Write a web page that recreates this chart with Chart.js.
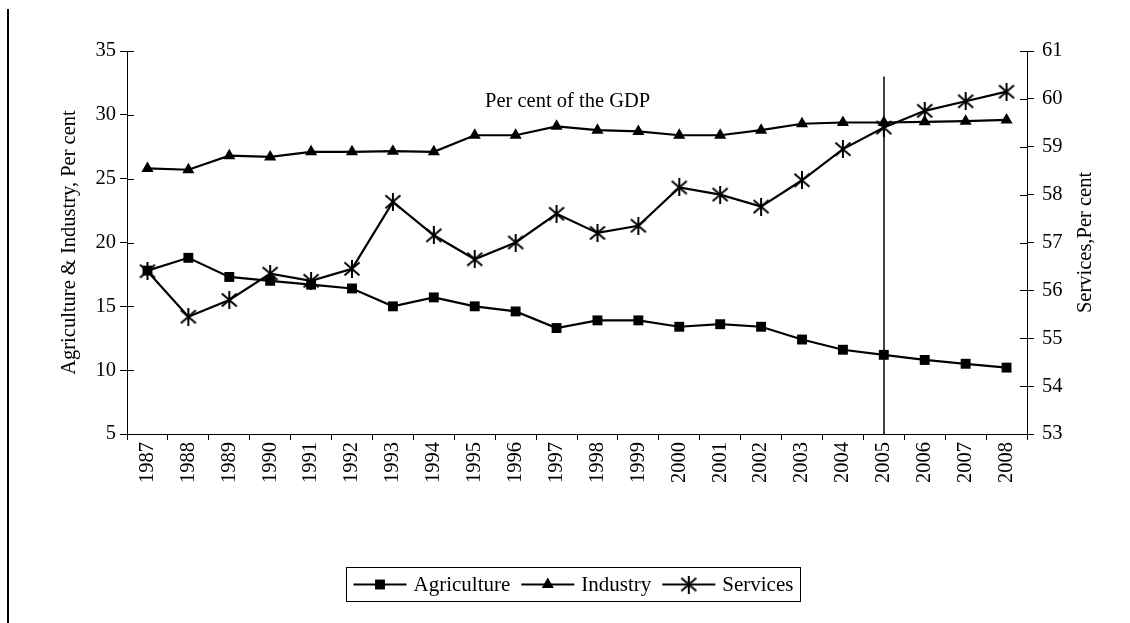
<!DOCTYPE html>
<html>
<head>
<meta charset="utf-8">
<script src="https://cdn.jsdelivr.net/npm/chart.js@4.4.1/dist/chart.umd.min.js"></script>
<style>
  body { margin: 0; background: #fff; }
  #wrap { position: relative; width: 1130px; height: 623px; }
  #frame { position: absolute; left: 7px; top: 9px; width: 2px; height: 614px; background: #000; }
  canvas { position: absolute; left: 0; top: 0; }
</style>
</head>
<body>
<div id="wrap">
  <div id="frame"></div>
  <canvas id="my-chart" width="1130" height="623"></canvas>
</div>
<script>
// data
const years = ["1987", "1988", "1989", "1990", "1991", "1992", "1993", "1994", "1995", "1996", "1997",
  "1998", "1999", "2000", "2001", "2002", "2003", "2004", "2005", "2006", "2007", "2008"];
const agriculture = [17.8, 18.8, 17.3, 17.0, 16.7, 16.4, 15.0, 15.7, 15.0, 14.6, 13.3,
  13.9, 13.9, 13.4, 13.6, 13.4, 12.4, 11.6, 11.2, 10.8, 10.5, 10.2];
const industry = [25.8, 25.7, 26.8, 26.7, 27.1, 27.1, 27.15, 27.1, 28.4, 28.4, 29.1,
  28.8, 28.7, 28.4, 28.4, 28.8, 29.3, 29.4, 29.4, 29.45, 29.5, 29.6];
const services = [56.4, 55.45, 55.8, 56.35, 56.2, 56.45, 57.85, 57.15, 56.65, 57.0, 57.6,
  57.2, 57.35, 58.15, 58.0, 57.75, 58.3, 58.95, 59.4, 59.75, 59.95, 60.15];
const leftTicks = { min: 5, max: 35, step: 5 };
const rightTicks = { min: 53, max: 61, step: 1 };
const markerYear = "2005";
const markerTop = 33; // left-axis value where the vertical line starts
const note = "Per cent of the GDP";
const noteAt = { index: 10.27, value: 31 };

const FONT = "'Liberation Serif', 'Times New Roman', serif";
const SIZE = 20.5;

// asterisk marker (x plus vertical bar), like the original
function makeStar() {
  const c = document.createElement("canvas");
  c.width = 18; c.height = 18;
  const g = c.getContext("2d");
  g.strokeStyle = "#000"; g.lineWidth = 2;
  g.beginPath();
  g.moveTo(9, 0); g.lineTo(9, 18);
  g.moveTo(1.5, 2.5); g.lineTo(16.5, 15.5);
  g.moveTo(1.5, 15.5); g.lineTo(16.5, 2.5);
  g.stroke();
  return c;
}
const star = makeStar();

const extras = {
  id: "extras",
  beforeDatasetsDraw(chart) {
    const ctx = chart.ctx;
    const { x, y } = chart.scales;
    const area = chart.chartArea;
    const vx = Math.round(x.getPixelForValue(years.indexOf(markerYear)));
    ctx.save();
    ctx.strokeStyle = "#000";
    ctx.lineWidth = 1.5;
    ctx.beginPath();
    ctx.moveTo(vx, y.getPixelForValue(markerTop));
    ctx.lineTo(vx, area.bottom);
    ctx.stroke();
    ctx.restore();
  },
  afterDraw(chart) {
    const ctx = chart.ctx;
    const { x, y, y2 } = chart.scales;
    const area = chart.chartArea;
    ctx.save();
    ctx.strokeStyle = "#000";
    ctx.lineWidth = 1;
    // inner half of the y tick marks (they cross the axis)
    ctx.beginPath();
    y.ticks.forEach((t, i) => {
      const py = Math.round(y.getPixelForTick(i)) + 0.5;
      ctx.moveTo(area.left, py); ctx.lineTo(area.left + 7, py);
    });
    y2.ticks.forEach((t, i) => {
      const py = Math.round(y2.getPixelForTick(i)) + 0.5;
      ctx.moveTo(area.right, py); ctx.lineTo(area.right - 7, py);
    });
    ctx.stroke();

    ctx.fillStyle = "#000";
    ctx.font = SIZE + "px " + FONT;
    // note inside the plot
    ctx.textAlign = "center";
    ctx.textBaseline = "middle";
    ctx.fillText(note, x.getPixelForValue(noteAt.index), y.getPixelForValue(noteAt.value));

    // right axis title, reading upward
    ctx.save();
    ctx.translate(area.right + 59, (area.top + area.bottom) / 2);
    ctx.rotate(-Math.PI / 2);
    ctx.fillText("Services,Per cent", 0, 0);
    ctx.restore();

    // legend with line + marker samples, boxed
    ctx.font = "21px " + FONT;
    const items = chart.data.datasets.map((ds) => ({ ds, w: ctx.measureText(ds.label).width }));
    const lineLen = 53, gap = 7, sep = 11, pad = 7;
    let total = pad * 2;
    items.forEach((it, i) => { total += lineLen + gap + it.w + (i < items.length - 1 ? sep : 0); });
    const boxH = 34;
    const cx = (area.left + area.right) / 2 - 4;
    const bx = Math.round(cx - total / 2) + 0.5;
    const by = Math.round(area.bottom + 133) + 0.5;
    ctx.lineWidth = 1;
    ctx.strokeRect(bx, by, Math.round(total), boxH);
    let px = bx + pad;
    const my = by + boxH / 2;
    ctx.textAlign = "left";
    items.forEach((it) => {
      ctx.lineWidth = 2;
      ctx.beginPath();
      ctx.moveTo(px, my); ctx.lineTo(px + lineLen, my);
      ctx.stroke();
      ctx.fillStyle = "#000";
      Chart.helpers.drawPoint(ctx, {
        pointStyle: it.ds.pointStyle, radius: it.ds.pointRadius, rotation: 0, borderWidth: 0
      }, px + lineLen / 2, my);
      px += lineLen + gap;
      ctx.fillText(it.ds.label, px, my + 1);
      px += it.w + sep;
    });
    ctx.restore();
  }
};

const ctx = document.getElementById("my-chart").getContext("2d");
const chart = new Chart(ctx, {
  type: "line",
  data: {
    labels: years,
    datasets: [
      {
        label: "Agriculture",
        data: agriculture,
        yAxisID: "y",
        borderColor: "#000",
        backgroundColor: "#000",
        borderWidth: 2.2,
        pointStyle: "rect",
        pointRadius: 7,
        pointBorderWidth: 0,
        tension: 0,
      },
      {
        label: "Industry",
        data: industry,
        yAxisID: "y",
        borderColor: "#000",
        backgroundColor: "#000",
        borderWidth: 2.2,
        pointStyle: "triangle",
        pointRadius: 7,
        pointBorderWidth: 0,
        tension: 0,
      },
      {
        label: "Services",
        data: services,
        yAxisID: "y2",
        borderColor: "#000",
        backgroundColor: "#000",
        borderWidth: 2.2,
        pointStyle: star,
        pointRadius: 8,
        tension: 0,
      },
    ],
  },
  options: {
    responsive: false,
    animation: false,
    layout: { padding: { top: 51, left: 0, right: 0, bottom: 0 } },
    plugins: { legend: { display: false }, tooltip: { enabled: false } },
    scales: {
      x: {
        type: "category",
        offset: true,
        grid: { offset: true, drawOnChartArea: false, color: "#000", tickLength: 6 },
        border: { color: "#000", width: 1 },
        ticks: {
          color: "#000",
          font: { family: FONT, size: SIZE },
          minRotation: 90,
          maxRotation: 90,
          autoSkip: false,
          padding: 2,
        },
        afterFit: (s) => { s.height = 189; },
      },
      y: {
        position: "left",
        min: leftTicks.min,
        max: leftTicks.max,
        grid: { drawOnChartArea: false, color: "#000", tickLength: 7 },
        border: { color: "#000", width: 1 },
        ticks: { stepSize: leftTicks.step, color: "#000", font: { family: FONT, size: SIZE }, padding: 4 },
        title: {
          display: true,
          text: "Agriculture & Industry, Per cent",
          color: "#000",
          font: { family: FONT, size: SIZE },
          padding: { top: 57, bottom: 0 },
        },
        afterFit: (s) => { s.width = 127; },
      },
      y2: {
        position: "right",
        min: rightTicks.min,
        max: rightTicks.max,
        grid: { drawOnChartArea: false, color: "#000", tickLength: 7 },
        border: { color: "#000", width: 1 },
        ticks: { stepSize: rightTicks.step, color: "#000", font: { family: FONT, size: SIZE }, padding: 8 },
        afterFit: (s) => { s.width = 103; },
      },
    },
  },
  plugins: [extras],
});
</script>
</body>
</html>
